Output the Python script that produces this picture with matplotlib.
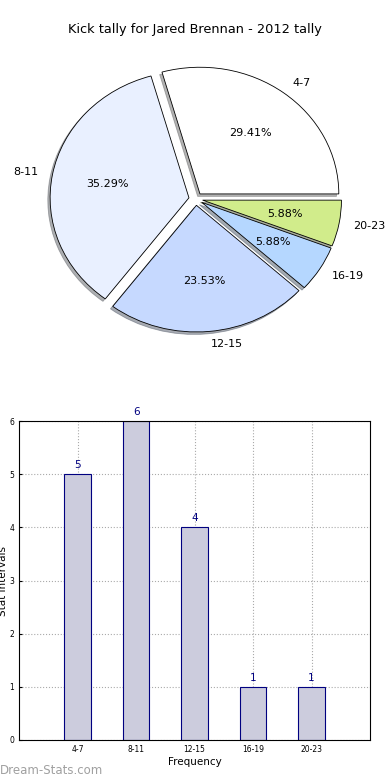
import numpy as np
import matplotlib
matplotlib.use('Agg')
import matplotlib.pyplot as plt

# kick tally data
intervals = ['4-7', '8-11', '12-15', '16-19', '20-23']
counts = [5, 6, 4, 1, 1]
pie_colors = ['#ffffff', '#e9f0ff', '#c6d9ff', '#b5d7ff', '#d1ec8b']
explode = [0.05, 0.05, 0.05, 0.05, 0.05]

fig = plt.figure(figsize=(3.9, 7.8), dpi=100)
fig.text(0.5, 1 - 30 / 780., 'Kick tally for Jared Brennan - 2012 tally',
         ha='center', va='center', fontsize=9.3)

# pie chart (old style, not forced round)
ax1 = fig.add_axes([0.057, 0.5419, 0.89, 0.406])
wedges, texts, autotexts = ax1.pie(counts, labels=intervals, colors=pie_colors,
                                   explode=explode, autopct='%1.2f%%',
                                   shadow={'ox': -0.012, 'oy': -0.014, 'shade': 0.6},
                                   startangle=0,
                                   wedgeprops=dict(edgecolor='black', linewidth=0.6),
                                   textprops=dict(fontsize=8))
ax1.set_aspect('auto')
ax1.set_xlim(-1.25, 1.25)
ax1.set_ylim(-1.25, 1.25)

# bar chart
ax2 = fig.add_axes([0.049, 0.0513, 0.9, 0.4089])
x = np.arange(len(intervals))
ax2.bar(x, counts, width=0.45, color='#ccccdd', edgecolor='#000080', linewidth=0.8,
        zorder=2)
for xi, c in zip(x, counts):
    ax2.text(xi, c + 0.08, str(c), ha='center', va='bottom', color='#000080',
             fontsize=7.5)
ax2.set_xlim(-1, 5)
ax2.set_ylim(0, 6)
ax2.set_xticks(x)
ax2.set_xticklabels(intervals, fontsize=5.5)
ax2.set_yticks(range(7))
ax2.tick_params(axis='y', labelsize=5.5)
ax2.tick_params(length=2, direction='in')
ax2.grid(True, linestyle=':', color='#aaaaaa', linewidth=0.8, zorder=0)
ax2.set_xlabel('Frequency', fontsize=7.5, labelpad=2)
ax2.set_ylabel('Stat Intervals', fontsize=7.5, labelpad=1)

fig.text(0.0, 1 - 771 / 780., 'Dream-Stats.com', color='#a0a0a0', fontsize=8.5,
         va='center', ha='left')

fig.savefig('out.png', dpi=100)
